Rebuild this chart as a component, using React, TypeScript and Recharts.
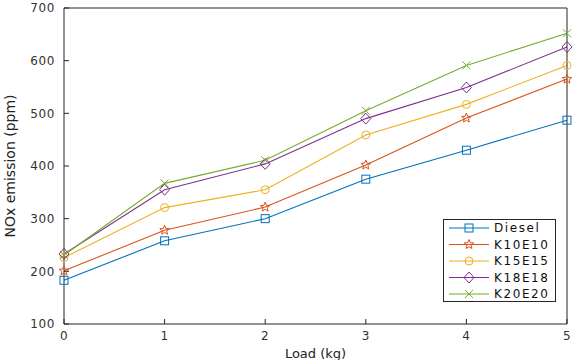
import React from "react";
import { LineChart, Line, XAxis, YAxis } from "recharts";

const loads = [0, 1, 2, 3, 4, 5];
const diesel = [183, 258, 300, 375, 430, 487];
const k10e10 = [201, 278, 322, 402, 491, 565];
const k15e15 = [226, 321, 355, 459, 517, 591];
const k18e18 = [233, 355, 404, 490, 549, 626];
const k20e20 = [231, 367, 411, 505, 591, 652];
const xTicks = [0, 1, 2, 3, 4, 5];
const yTicks = [100, 200, 300, 400, 500, 600, 700];

const series = [
  { key: "Diesel", values: diesel, color: "#0072BD", marker: "square" },
  { key: "K10E10", values: k10e10, color: "#D95319", marker: "star" },
  { key: "K15E15", values: k15e15, color: "#EDB120", marker: "circle" },
  { key: "K18E18", values: k18e18, color: "#7E2F8E", marker: "diamond" },
  { key: "K20E20", values: k20e20, color: "#77AC30", marker: "cross" },
];

const data = loads.map((load, i) => {
  const row: Record<string, number> = { load };
  series.forEach((s) => (row[s.key] = s.values[i]));
  return row;
});

const FONT = "'DejaVu Sans', sans-serif";
const AXIS = "#262626";

// MATLAB-style open markers
function Marker({ type, cx, cy, color }: { type: string; cx: number; cy: number; color: string }) {
  const p = { fill: "none", stroke: color, strokeWidth: 1 };
  if (type === "square") return <rect x={cx - 4} y={cy - 4} width={8} height={8} {...p} />;
  if (type === "circle") return <circle cx={cx} cy={cy} r={4} {...p} />;
  if (type === "diamond")
    return <path d={`M${cx},${cy - 5.5}L${cx + 5},${cy}L${cx},${cy + 5.5}L${cx - 5},${cy}Z`} {...p} />;
  if (type === "cross")
    return <path d={`M${cx - 4},${cy - 4}L${cx + 4},${cy + 4}M${cx - 4},${cy + 4}L${cx + 4},${cy - 4}`} {...p} />;
  // star
  const pts: string[] = [];
  for (let k = 0; k < 10; k++) {
    const r = k % 2 === 0 ? 5 : 2.2;
    const a = -Math.PI / 2 + (k * Math.PI) / 5;
    pts.push(`${cx + r * Math.cos(a)},${cy + r * Math.sin(a)}`);
  }
  return <polygon points={pts.join(" ")} {...p} />;
}

const LegendBox = () => (
  <div
    style={{
      position: "absolute",
      left: 443,
      top: 219,
      width: 113,
      height: 83,
      boxSizing: "border-box",
      border: `1px solid ${AXIS}`,
      background: "#fff",
    }}
  >
    <svg width={111} height={81} style={{ display: "block" }}>
      {series.map((s, i) => {
        const y = 8 + i * 16.5;
        return (
          <g key={s.key}>
            <line x1={5} x2={45} y1={y} y2={y} stroke={s.color} strokeWidth={1.1} />
            <Marker type={s.marker} cx={25} cy={y} color={s.color} />
            <text
              x={50}
              y={y}
              dominantBaseline="central"
              fontFamily={FONT}
              fontSize={12}
              letterSpacing={1.6}
              fill="#111"
            >
              {s.key}
            </text>
          </g>
        );
      })}
    </svg>
  </div>
);

export default function App() {
  return (
    <div style={{ position: "absolute", left: 0, top: 0, width: 580, height: 360, background: "#fff", overflow: "hidden" }}>
      <LineChart width={580} height={360} data={data} margin={{ top: 0, right: 0, left: 0, bottom: 0 }}>
        <XAxis
          dataKey="load"
          type="number"
          domain={[0, 5]}
          ticks={xTicks}
          height={36}
          tickSize={-5}
          tickMargin={12}
          stroke={AXIS}
          tick={{ fill: "#333", fontSize: 12, fontFamily: FONT, letterSpacing: 0.6 }}
          label={{ value: "Load (kg)", position: "insideBottom", offset: 2, fill: "#222", fontSize: 13, fontFamily: FONT }}
        />
        <XAxis
          xAxisId="top"
          orientation="top"
          dataKey="load"
          type="number"
          domain={[0, 5]}
          ticks={xTicks}
          height={8}
          tickSize={-5}
          tick={false}
          stroke={AXIS}
        />
        <YAxis
          type="number"
          domain={[100, 700]}
          ticks={yTicks}
          width={64}
          tickSize={-5}
          tickMargin={14}
          stroke={AXIS}
          tick={{ fill: "#333", fontSize: 12, fontFamily: FONT, letterSpacing: 0.6 }}
          label={{
            value: "NOx emission (ppm)",
            angle: -90,
            position: "insideLeft",
            offset: 10,
            style: { textAnchor: "middle" },
            fill: "#222",
            fontSize: 14,
            fontFamily: FONT,
          }}
        />
        <YAxis
          yAxisId="right"
          orientation="right"
          type="number"
          domain={[100, 700]}
          ticks={yTicks}
          width={13}
          tickSize={-5}
          tick={false}
          stroke={AXIS}
        />
        {series.map((s) => (
          <Line
            key={s.key}
            dataKey={s.key}
            stroke={s.color}
            strokeWidth={1.1}
            isAnimationActive={false}
            dot={(props: any) => (
              <Marker key={`${s.key}-${props.index}`} type={s.marker} cx={props.cx} cy={props.cy} color={s.color} />
            )}
            activeDot={false}
          />
        ))}
      </LineChart>
      <LegendBox />
    </div>
  );
}
